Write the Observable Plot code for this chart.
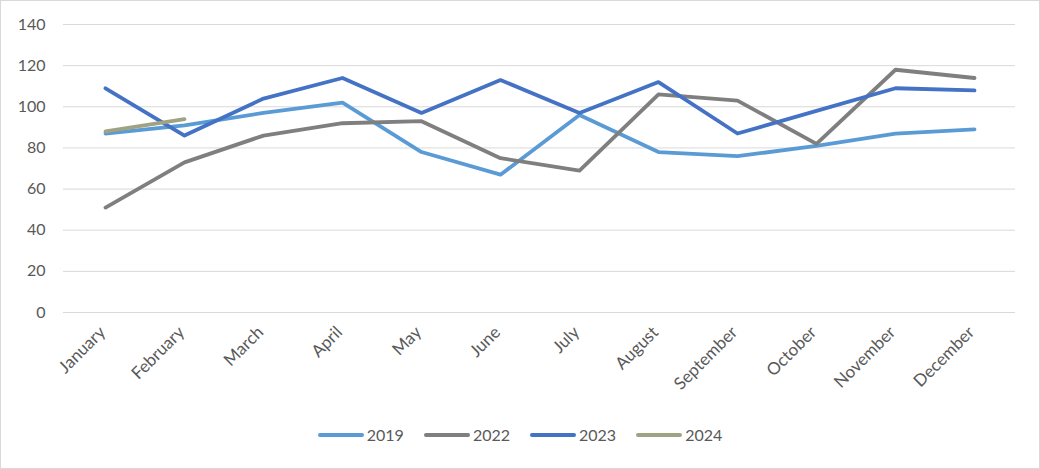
<!DOCTYPE html>
<html>
<head>
<meta charset="utf-8">
<script src="https://cdn.jsdelivr.net/npm/d3@7"></script>
<script src="https://cdn.jsdelivr.net/npm/@observablehq/plot@0.6"></script>
<style>
  html, body { margin: 0; padding: 0; background: #fff; }
  #frame { width: 1040px; height: 469px; box-sizing: border-box; border: 1px solid #D9D9D9; position: relative; font-family: Lato, "Open Sans", sans-serif; }
  #legend { position: absolute; left: 0; right: 0; top: 424px; display: flex; justify-content: center; gap: 20px; font-size: 16px; color: #595959; }
  .item { display: flex; align-items: center; gap: 3px; }
  .sw { width: 46px; height: 4px; border-radius: 2px; }
</style>
</head>
<body>
<div id="frame"><div id="chart"></div><div id="legend"></div></div>
<script>
const months = ["January","February","March","April","May","June","July","August","September","October","November","December"];
const years = ["2019","2022","2023","2024"];
const colors = ["#5B9BD5","#7F7F7F","#4472C4","#A0A383"];
const v2019 = [87, 91, 97, 102, 78, 67, 96, 78, 76, 81, 87, 89];
const v2022 = [51, 73, 86, 92, 93, 75, 69, 106, 103, 82, 118, 114];
const v2023 = [109, 86, 104, 114, 97, 113, 97, 112, 87, 98, 109, 108];
const v2024 = [88, 94];
const yTicks = [0, 20, 40, 60, 80, 100, 120, 140];

const series = [v2019, v2022, v2023, v2024];
const data = [];
series.forEach((vals, i) => vals.forEach((v, j) => data.push({year: years[i], month: months[j], value: v})));

const chart = Plot.plot({
  width: 1038,
  height: 405,
  marginTop: 23,
  marginBottom: 94,
  marginLeft: 62,
  marginRight: 24,
  style: {fontFamily: "Lato, 'Open Sans', sans-serif", fontSize: "16px", color: "#595959", background: "transparent"},
  x: {domain: months, type: "point", padding: 0.5, label: null},
  y: {domain: [0, 140], label: null},
  color: {domain: years, range: colors},
  marks: [
    Plot.gridY(yTicks, {stroke: "#D9D9D9", strokeOpacity: 1, strokeWidth: 1}),
    Plot.axisY(yTicks, {tickSize: 0, tickPadding: 18, label: null, fontSize: 16}),
    Plot.axisX({tickSize: 0, tickRotate: -45, tickPadding: 17, dx: -3, label: null, fontSize: 17}),
    Plot.line(data, {x: "month", y: "value", z: "year", stroke: "year", strokeWidth: 3.8, strokeLinejoin: "round", strokeLinecap: "round"})
  ]
});
document.getElementById("chart").appendChild(chart);

const legend = document.getElementById("legend");
years.forEach((y, i) => {
  const it = document.createElement("div");
  it.className = "item";
  it.innerHTML = `<span class="sw" style="background:${colors[i]}"></span><span>${y}</span>`;
  legend.appendChild(it);
});
</script>
</body>
</html>
